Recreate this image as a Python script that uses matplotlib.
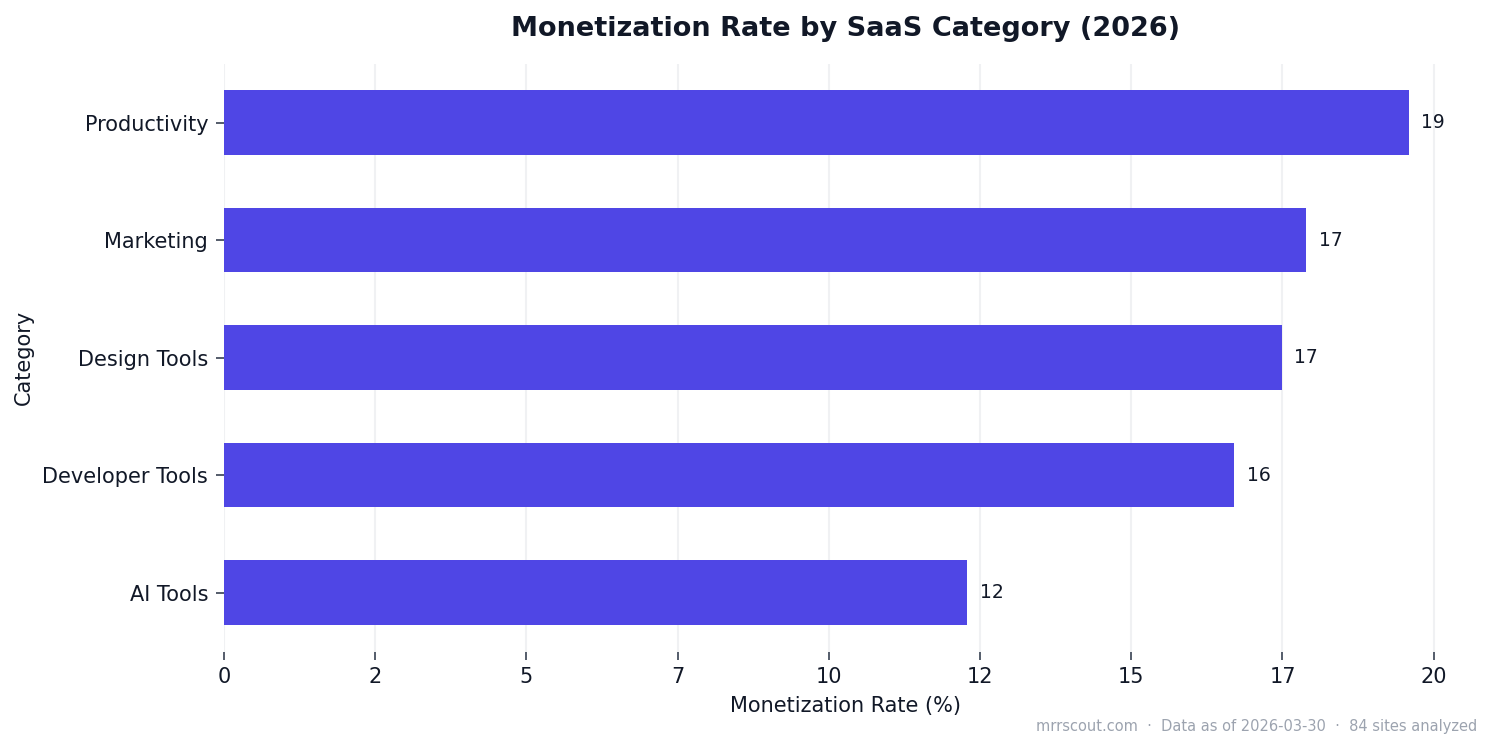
import matplotlib
matplotlib.use("Agg")
import matplotlib.pyplot as plt
from matplotlib.ticker import FuncFormatter, MultipleLocator

categories = ["AI Tools", "Developer Tools", "Design Tools", "Marketing", "Productivity"]
rates = [12.29, 16.70, 17.49, 17.89, 19.59]

BAR = "#4F46E5"
TEXT = "#111827"
GRID = "#F0F1F3"

fig, ax = plt.subplots(figsize=(1492 / 150, 749 / 150), dpi=150)

bars = ax.barh(categories, rates, height=0.55, color=BAR, zorder=3)
ax.bar_label(bars, labels=[str(int(v)) for v in rates], padding=6, fontsize=9, color=TEXT)

# default x margin; only ticks up to 20 are shown
ax.xaxis.set_major_locator(MultipleLocator(2.5))
ax.xaxis.set_major_formatter(FuncFormatter(lambda x, p: f"{int(x)}"))
ax.grid(axis="x", color=GRID, linewidth=1.0, zorder=0)
ax.grid(axis="y", visible=False)
for s in ax.spines.values():
    s.set_visible(False)
ax.tick_params(axis="both", labelsize=10, colors="#374151", labelcolor=TEXT, length=4)

ax.set_xlabel("Monetization Rate (%)", fontsize=10, color=TEXT)
ax.set_ylabel("Category", fontsize=10, color=TEXT)
ax.set_title("Monetization Rate by SaaS Category (2026)", fontsize=13, fontweight="bold",
             color=TEXT, pad=13.5)

fig.text(0.99, 0.02, "mrrscout.com  \u00b7  Data as of 2026-03-30  \u00b7  84 sites analyzed",
         ha="right", va="bottom", fontsize=7, color="#9CA3AF")

fig.subplots_adjust(left=0.15, right=0.984, top=0.915, bottom=0.13)
fig.savefig("out.png", dpi=150)
